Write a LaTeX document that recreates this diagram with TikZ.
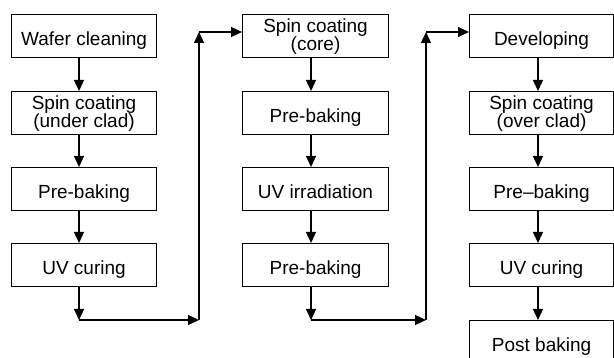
\documentclass[tikz,border=0pt]{standalone}
\usepackage{fontspec}
\setmainfont{Liberation Sans}
\usetikzlibrary{arrows.meta}
\begin{document}
\begin{tikzpicture}[x=1pt,y=-1pt,
  box/.style={draw, line width=1.1pt, minimum height=43pt, inner sep=0pt,
    text height=19pt, text depth=0pt, font=\fontsize{19}{19}\selectfont, anchor=north west},
  lbl/.style={inner sep=0pt, anchor=base, font=\fontsize{19}{19}\selectfont},
  arr/.style={line width=1.3pt, -{Triangle[length=11pt,width=10pt]}}
]
\useasboundingbox (0,0) rectangle (614,358);
\clip (0,0) rectangle (614,358);

% column 1
\node[box, minimum width=145pt] (a1) at (11,14) {Wafer cleaning};
\node[box, minimum width=145pt] (a2) at (11,91) {};
\node[lbl] (a2t) at ([yshift=-19pt]a2.north) {Spin coating};
\node[lbl] (a2b) at ([yshift=-37pt]a2.north) {(under clad)};
\node[box, minimum width=145pt] (a3) at (11,167) {Pre-baking};
\node[box, minimum width=145pt] (a4) at (11,243) {UV curing};

% column 2
\node[box, minimum width=146pt] (c1) at (242,14) {};
\node[lbl] (c1t) at ([yshift=-19pt]c1.north) {Spin coating};
\node[lbl] (c1b) at ([yshift=-37pt]c1.north) {(core)};
\node[box, minimum width=146pt] (c2) at (242,91) {Pre-baking};
\node[box, minimum width=146pt] (c3) at (242,167) {UV irradiation};
\node[box, minimum width=146pt] (c4) at (242,243) {Pre-baking};

% column 3
\node[box, minimum width=144pt] (d1) at (469,14) {Developing};
\node[box, minimum width=144pt] (d2) at (469,91) {};
\node[lbl] (d2t) at ([yshift=-19pt]d2.north) {Spin coating};
\node[lbl] (d2b) at ([yshift=-37pt]d2.north) {(over clad)};
\node[box, minimum width=144pt] (d3) at (469,167) {Pre--baking};
\node[box, minimum width=144pt] (d4) at (469,243) {UV curing};
\node[box, minimum width=144pt] (d5) at (469,320) {Post baking};

% arrow columns
\coordinate (x1) at (79,0);
\coordinate (x2) at (311,0);
\coordinate (x3) at (538,0);

\draw[arr] (a1.south -| x1) -- (a2.north -| x1);
\draw[arr] (a2.south -| x1) -- (a3.north -| x1);
\draw[arr] (a3.south -| x1) -- (a4.north -| x1);

\draw[arr] (c1.south -| x2) -- (c2.north -| x2);
\draw[arr] (c2.south -| x2) -- (c3.north -| x2);
\draw[arr] (c3.south -| x2) -- (c4.north -| x2);

\draw[arr] (d1.south -| x3) -- (d2.north -| x3);
\draw[arr] (d2.south -| x3) -- (d3.north -| x3);
\draw[arr] (d3.south -| x3) -- (d4.north -| x3);
\draw[arr] (d4.south -| x3) -- (d5.north -| x3);

% connector 1 -> 2
\coordinate (p1) at (79,320);
\coordinate (p2) at (199,320);
\coordinate (p3) at (199,32);
\draw[arr] (a4.south -| x1) -- (p1);
\draw[arr] (p1) -- (p2);
\draw[arr] (p2) -- (p3);
\draw[arr] (p3) -- (p3 -| c1.west);

% connector 2 -> 3
\coordinate (q1) at (311,320);
\coordinate (q2) at (426,320);
\coordinate (q3) at (426,32);
\draw[arr] (c4.south -| x2) -- (q1);
\draw[arr] (q1) -- (q2);
\draw[arr] (q2) -- (q3);
\draw[arr] (q3) -- (q3 -| d1.west);
\end{tikzpicture}
\end{document}
